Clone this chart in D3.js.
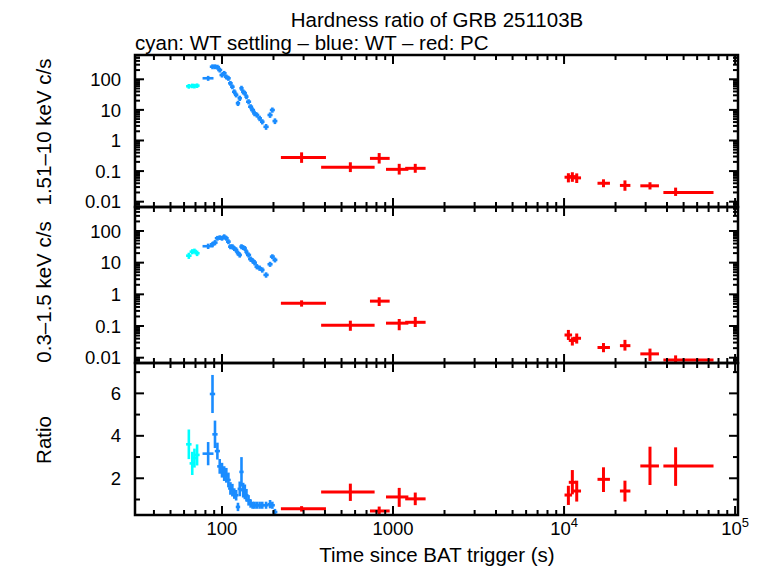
<!DOCTYPE html>
<html><head><meta charset="utf-8">
<script src="https://cdn.jsdelivr.net/npm/d3@7"></script>
<style>body{margin:0;background:#fff}svg{display:block}text{font-family:"Liberation Sans",Arial,sans-serif;fill:#000}</style>
</head><body>
<svg id="c" width="765" height="566"></svg>
<script>
// ---------------- data ----------------
const titleText = "Hardness ratio of GRB 251103B";
const subtitleText = "cyan: WT settling \u2013 blue: WT \u2013 red: PC";
const xLabel = "Time since BAT trigger (s)";
const panelLabels = ["1.51\u201310 keV c/s", "0.3\u20131.5 keV c/s", "Ratio"];
const xTickValues = [100, 1000, 10000, 100000];
const xTickLabels = [["100", ""], ["1000", ""], ["10", "4"], ["10", "5"]];
const logTickValues = [100, 10, 1, 0.1, 0.01];
const logTickLabels = ["100", "10", "1", "0.1", "0.01"];
const ratioTickValues = [2, 4, 6];
const ratioTickLabels = ["2", "4", "6"];

// cyan: WT settling
const cyanT = [64, 67, 69, 71.5];
const cyanTErr = [1.5, 1.5, 1.5, 1.5];
const cyanHard = [59, 61, 60, 62];
const cyanHardErr = [6, 6, 6, 6];
const cyanSoft = [16.6, 22.2, 23.3, 19.8];
const cyanSoftErr = [2.5, 2.5, 2.5, 2.5];
const cyanRatio = [3.6, 2.7, 2.95, 3.1];
const cyanRatioErr = [0.65, 0.5, 0.4, 0.45];

// blue: WT
const blueT =    [83, 88, 91, 94, 97, 100, 103, 106, 109, 112, 115, 118, 121, 124, 127, 130, 133, 136, 139, 143, 147, 151, 155, 160, 166, 172, 181, 191, 197, 204];
const blueTErr = [5, 2, 2, 2, 2, 2, 2, 2, 2, 2, 2, 2, 2, 2, 2, 2, 2, 2, 2, 3, 3, 3, 3, 3, 3, 3, 4, 4, 4, 4];
const blueHard = [108, 258, 258, 250, 201, 138, 157, 120, 108, 74, 57, 39, 31, 16.4, 24, 51, 39, 35, 27, 18.5, 12.7, 9.9, 7.7, 6.8, 5.3, 4.1, 2.8, 6.8, 9.9, 4.3];
const blueHardErr = [12, 28, 28, 27, 22, 15, 17, 13, 12, 8, 6, 4.5, 3.5, 2, 3, 6, 4.5, 4, 3, 2.2, 1.5, 1.2, 1, 0.8, 0.7, 0.5, 0.4, 0.9, 1.2, 0.6];
const blueSoft = [33, 38, 43, 59, 62, 59, 66, 59, 46, 32, 32, 28, 25, 20, 17.5, 32, 30, 28, 22, 17.5, 13, 11.5, 10, 7.5, 6.7, 5.9, 4.1, 8.9, 15.5, 12.2];
const blueSoftErr = [4, 4, 5, 6, 6, 6, 7, 6, 5, 3.5, 3.5, 3, 3, 2.2, 2, 3.5, 3.2, 3, 2.4, 2, 1.5, 1.3, 1.2, 0.9, 0.8, 0.7, 0.5, 1, 1.6, 1.3];
const blueRatio = [3.16, 5.97, 4.07, 3.28, 2.56, 2.38, 2.22, 2.14, 1.92, 1.52, 1.44, 1.28, 1.2, 0.65, 1.5, 2.3, 1.44, 1.36, 1.2, 0.96, 0.81, 0.73, 0.73, 0.73, 0.73, 0.73, 0.73, 0.78, 0.73, 0.41];
const blueRatioErr = [0.5, 0.85, 0.6, 0.35, 0.3, 0.3, 0.3, 0.3, 0.3, 0.25, 0.25, 0.2, 0.2, 0.15, 0.3, 0.65, 0.3, 0.3, 0.25, 0.2, 0.15, 0.12, 0.12, 0.12, 0.12, 0.12, 0.12, 0.15, 0.12, 0.1];

// red: PC
const redT =   [292, 563, 830, 1087, 1349, 10600, 11180, 11860, 17000, 22700, 31800, 44900];
const redTLo = [224, 385, 743, 922, 1194, 10200, 10800, 11400, 15900, 21500, 28300, 38600];
const redTHi = [400, 770, 943, 1213, 1530, 10990, 11600, 12400, 18300, 24100, 35400, 73800];
const redHard =   [0.28, 0.133, 0.26, 0.114, 0.123, 0.063, 0.066, 0.060, 0.040, 0.034, 0.033, 0.020];
const redHardLo = [0.20, 0.10, 0.19, 0.083, 0.095, 0.046, 0.048, 0.044, 0.032, 0.0245, 0.027, 0.0166];
const redHardHi = [0.38, 0.18, 0.36, 0.16, 0.16, 0.079, 0.085, 0.078, 0.050, 0.046, 0.040, 0.0267];
const redSoft =   [0.52, 0.106, 0.61, 0.123, 0.131, 0.052, 0.035, 0.041, 0.021, 0.024, 0.0132, 0.0085];
const redSoftLo = [0.44, 0.076, 0.46, 0.079, 0.10, 0.039, 0.026, 0.030, 0.016, 0.018, 0.0085, 0.006];
const redSoftHi = [0.60, 0.137, 0.75, 0.155, 0.18, 0.07, 0.041, 0.054, 0.027, 0.034, 0.018, 0.011];
const redRatio =   [0.56, 1.35, 0.46, 1.12, 1.03, 1.21, 1.81, 1.40, 1.95, 1.40, 2.58, 2.58];
const redRatioLo = [0.48, 0.98, 0.28, 0.70, 0.78, 0.79, 1.29, 0.95, 1.40, 0.95, 1.73, 1.69];
const redRatioHi = [0.64, 1.70, 0.62, 1.50, 1.28, 1.60, 2.34, 1.84, 2.47, 1.84, 3.44, 3.41];

const colors = {cyan: "#00ffff", blue: "#1a8cff", red: "#ff0000"};

// ---------------- layout ----------------
const L = 135, R = 738;
const panels = [
  {top: 55, bottom: 207, type: "log", domain: [0.0067, 622]},
  {top: 207, bottom: 363, type: "log", domain: [0.0068, 571]},
  {top: 363, bottom: 515, type: "lin", domain: [0.27, 7.43]}
];
const x = d3.scaleLog().domain([31, 1.04e5]).range([L, R]);
const svg = d3.select("#c");

function sym(t, tErr, v, vErr) { return t.map((d, i) => ({t: d, tLo: d - tErr[i], tHi: d + tErr[i], v: v[i], vLo: v[i] - vErr[i], vHi: v[i] + vErr[i]})); }
function asym(t, tLo, tHi, v, vLo, vHi) { return t.map((d, i) => ({t: d, tLo: tLo[i], tHi: tHi[i], v: v[i], vLo: vLo[i], vHi: vHi[i]})); }
const series = [
  [ {c: colors.cyan, w: 2.6, d: sym(cyanT, cyanTErr, cyanHard, cyanHardErr)},
    {c: colors.blue, w: 2.6, d: sym(blueT, blueTErr, blueHard, blueHardErr)},
    {c: colors.red, w: 3, d: asym(redT, redTLo, redTHi, redHard, redHardLo, redHardHi)} ],
  [ {c: colors.cyan, w: 2.6, d: sym(cyanT, cyanTErr, cyanSoft, cyanSoftErr)},
    {c: colors.blue, w: 2.6, d: sym(blueT, blueTErr, blueSoft, blueSoftErr)},
    {c: colors.red, w: 3, d: asym(redT, redTLo, redTHi, redSoft, redSoftLo, redSoftHi)} ],
  [ {c: colors.cyan, w: 2.6, d: sym(cyanT, cyanTErr, cyanRatio, cyanRatioErr)},
    {c: colors.blue, w: 2.6, d: sym(blueT, blueTErr, blueRatio, blueRatioErr)},
    {c: colors.red, w: 3, d: asym(redT, redTLo, redTHi, redRatio, redRatioLo, redRatioHi)} ]
];

const defs = svg.append("defs");
const xMinor = [];
for (let e = 1; e <= 5; e++) for (let m = 1; m <= 9; m++) { const v = m * Math.pow(10, e); if (v >= 31 && v <= 1.04e5) xMinor.push(v); }

panels.forEach((p, pi) => {
  const y = (p.type === "log" ? d3.scaleLog() : d3.scaleLinear()).domain(p.domain).range([p.bottom, p.top]);
  const cid = "clip" + pi;
  defs.append("clipPath").attr("id", cid).append("rect").attr("x", L).attr("y", p.top).attr("width", R - L).attr("height", p.bottom - p.top);
  const g = svg.append("g").attr("clip-path", `url(#${cid})`);
  series[pi].forEach(s => {
    const gs = g.append("g").attr("stroke", s.c).attr("stroke-width", s.w).attr("fill", "none");
    gs.selectAll("line.h").data(s.d).join("line").attr("class", "h")
      .attr("x1", d => x(d.tLo) - 1).attr("x2", d => x(d.tHi) + 1)
      .attr("y1", d => y(d.v)).attr("y2", d => y(d.v));
    gs.selectAll("line.v").data(s.d).join("line").attr("class", "v")
      .attr("x1", d => x(d.t)).attr("x2", d => x(d.t))
      .attr("y1", d => y(Math.max(d.vLo, p.domain[0] * 0.5)) + 1).attr("y2", d => y(d.vHi) - 1);
  });

  const tk = svg.append("g").attr("stroke", "#000").attr("stroke-width", 2);
  xMinor.forEach(v => {
    const len = xTickValues.includes(v) ? 9 : 5;
    tk.append("line").attr("x1", x(v)).attr("x2", x(v)).attr("y1", p.bottom).attr("y2", p.bottom - len);
    tk.append("line").attr("x1", x(v)).attr("x2", x(v)).attr("y1", p.top).attr("y2", p.top + len);
  });
  let yMaj, yMin;
  if (p.type === "log") {
    yMaj = logTickValues; yMin = [];
    for (let e = -3; e <= 2; e++) for (let m = 2; m <= 9; m++) { const v = m * Math.pow(10, e); if (v > p.domain[0] && v < p.domain[1]) yMin.push(v); }
  } else {
    yMaj = ratioTickValues; yMin = [1, 3, 5, 7];
  }
  yMaj.forEach(v => {
    tk.append("line").attr("x1", L).attr("x2", L + 9).attr("y1", y(v)).attr("y2", y(v));
    tk.append("line").attr("x1", R).attr("x2", R - 9).attr("y1", y(v)).attr("y2", y(v));
  });
  yMin.forEach(v => {
    tk.append("line").attr("x1", L).attr("x2", L + 5).attr("y1", y(v)).attr("y2", y(v));
    tk.append("line").attr("x1", R).attr("x2", R - 5).attr("y1", y(v)).attr("y2", y(v));
  });
  const labs = p.type === "log" ? logTickLabels : ratioTickLabels;
  yMaj.forEach((v, i) => {
    svg.append("text").attr("x", 121).attr("y", y(v)).attr("dy", "0.36em")
      .attr("text-anchor", "end").attr("font-size", 18.5).text(labs[i]);
  });
  svg.append("rect").attr("x", L).attr("y", p.top).attr("width", R - L).attr("height", p.bottom - p.top)
    .attr("fill", "none").attr("stroke", "#000").attr("stroke-width", 2.5);
});

xTickValues.forEach((v, i) => {
  const t = svg.append("text").attr("x", x(v)).attr("y", 535).attr("text-anchor", "middle").attr("font-size", 18.5);
  t.append("tspan").text(xTickLabels[i][0]);
  if (xTickLabels[i][1]) t.append("tspan").attr("dy", -8).attr("font-size", 13).text(xTickLabels[i][1]);
});

svg.append("text").attr("x", 437).attr("y", 27).attr("text-anchor", "middle").attr("font-size", 20.5).text(titleText);
svg.append("text").attr("x", 135).attr("y", 50).attr("font-size", 20.5).text(subtitleText);
svg.append("text").attr("x", 437).attr("y", 562).attr("text-anchor", "middle").attr("font-size", 20.5).text(xLabel);
const labelCenters = [132, 292, 440];
panelLabels.forEach((s, i) => {
  svg.append("text").attr("transform", `translate(51,${labelCenters[i]}) rotate(-90)`)
    .attr("text-anchor", "middle").attr("font-size", 20.5).text(s);
});
</script>
</body></html>
